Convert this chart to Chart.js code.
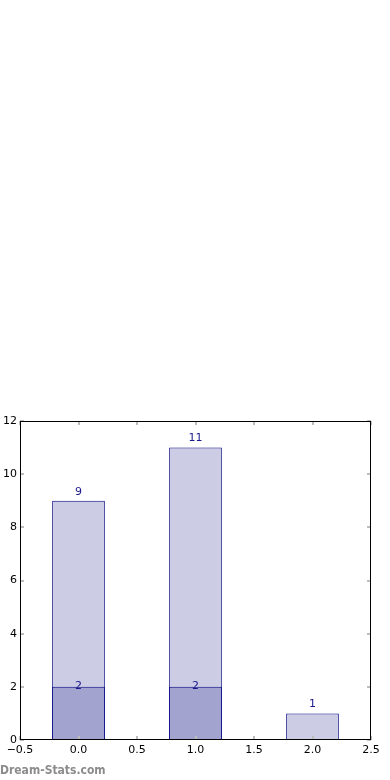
<!DOCTYPE html>
<html lang="en">
<head>
  <meta charset="UTF-8" />
  <title>Dream-Stats</title>
  <script src="https://cdn.jsdelivr.net/npm/chart.js"></script>
  <style>
    html, body {
      margin: 0;
      padding: 0;
      background: #fff;
    }
    .wrap {
      position: relative;
      width: 390px;
      height: 780px;
    }
    canvas {
      position: absolute;
      left: 0;
      top: 0;
    }
    .brand {
      position: absolute;
      left: 0;
      top: 763px;
      font-family: 'DejaVu Sans Condensed', 'DejaVu Sans', sans-serif;
      font-stretch: condensed;
      font-size: 12px;
      font-weight: bold;
      color: #8c8c8c;
    }
  </style>
</head>
<body>
  <div class="wrap">
    <canvas id="chart" width="390" height="780"></canvas>
    <div class="brand">Dream-Stats.com</div>
  </div>

  <script>
    // values
    const positions = [0, 1, 2];
    const totalCounts = [9, 11, 1];
    const subsetCounts = [2, 2, null];
    const xRange = [-0.5, 2.5];
    const yRange = [0, 12];

    const toPoints = vals => positions.map((x, i) => ({ x: x, y: vals[i] }));
    const fmtTick = v => v.toFixed(1).replace('-', '\u2212');

    // frame + inward gray ticks on all four sides
    const framePlugin = {
      id: 'frame',
      afterDraw(chart) {
        const { ctx, chartArea: a, scales } = chart;
        ctx.save();
        ctx.strokeStyle = '#bdbdbd';
        ctx.lineWidth = 2;
        scales.x.ticks.forEach(t => {
          const px = Math.round(scales.x.getPixelForValue(t.value));
          ctx.beginPath();
          ctx.moveTo(px, a.bottom); ctx.lineTo(px, a.bottom - 4);
          ctx.moveTo(px, a.top); ctx.lineTo(px, a.top + 4);
          ctx.stroke();
        });
        scales.y.ticks.forEach(t => {
          const py = Math.round(scales.y.getPixelForValue(t.value));
          ctx.beginPath();
          ctx.moveTo(a.left, py); ctx.lineTo(a.left + 4, py);
          ctx.moveTo(a.right, py); ctx.lineTo(a.right - 4, py);
          ctx.stroke();
        });
        ctx.strokeStyle = '#000';
        ctx.lineWidth = 1;
        ctx.strokeRect(Math.round(a.left) + 0.5, Math.round(a.top) + 0.5,
          Math.round(a.right - a.left) - 1, Math.round(a.bottom - a.top) - 1);
        ctx.restore();
      }
    };

    // numbers on the bars
    const labelPlugin = {
      id: 'barLabels',
      afterDatasetsDraw(chart) {
        const { ctx } = chart;
        ctx.save();
        ctx.font = '11px "DejaVu Sans"';
        ctx.fillStyle = '#1a1a8c';
        ctx.textAlign = 'center';
        ctx.textBaseline = 'middle';
        chart.data.datasets.forEach((ds, di) => {
          const meta = chart.getDatasetMeta(di);
          meta.data.forEach((el, i) => {
            const v = ds.data[i].y;
            if (v === null) return;
            ctx.fillText(String(v), el.x, el.y - ds.labelOffset);
          });
        });
        ctx.restore();
      }
    };

    new Chart(document.getElementById('chart'), {
      type: 'bar',
      data: {
        datasets: [
          {
            data: toPoints(totalCounts),
            backgroundColor: '#ccccE5',
            borderColor: '#000080',
            borderWidth: 1,
            borderSkipped: false,
            grouped: false,
            order: 2,
            barPercentage: 1,
            categoryPercentage: 0.9,
            labelOffset: 9
          },
          {
            data: toPoints(subsetCounts),
            backgroundColor: '#a3a3d0',
            borderColor: '#000080',
            borderWidth: 1,
            borderSkipped: false,
            grouped: false,
            order: 1,
            barPercentage: 1,
            categoryPercentage: 0.9,
            labelOffset: 1
          }
        ]
      },
      options: {
        responsive: false,
        animation: false,
        layout: { padding: { top: 421, right: 19, left: 0, bottom: 0 } },
        plugins: {
          legend: { display: false },
          tooltip: { enabled: false }
        },
        scales: {
          x: {
            type: 'linear',
            offset: false,
            min: xRange[0],
            max: xRange[1],
            grid: { display: false, drawTicks: false },
            border: { display: false },
            afterFit(s) { s.height = 40; },
            ticks: {
              stepSize: 0.5,
              padding: 4,
              color: '#000',
              font: { family: 'DejaVu Sans', size: 11 },
              maxRotation: 0,
              autoSkip: false,
              callback: v => fmtTick(v)
            }
          },
          y: {
            min: yRange[0],
            max: yRange[1],
            grid: { display: false, drawTicks: false },
            border: { display: false },
            afterFit(s) { s.width = 20; },
            ticks: {
              stepSize: 2,
              padding: 3,
              color: '#000',
              font: { family: 'DejaVu Sans', size: 11 }
            }
          }
        }
      },
      plugins: [framePlugin, labelPlugin]
    });
  </script>
</body>
</html>
